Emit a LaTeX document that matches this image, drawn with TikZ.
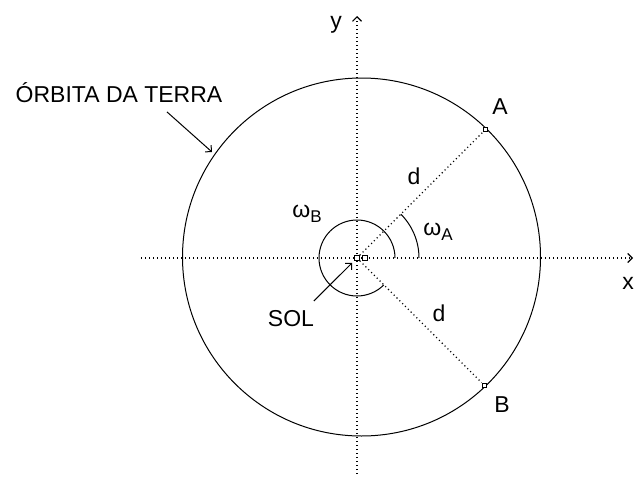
\documentclass[tikz,border=0pt]{standalone}
\usepackage{fontspec}
\setmainfont{Liberation Sans}
\usetikzlibrary{arrows.meta}
\tikzset{orbsec/.style={x=1pt,y=-1pt,font=\fontsize{23}{27}\selectfont,line width=1pt,
    >={Straight Barb[length=4.5pt,width=9pt]}},
  dots/.style={line width=1.1pt,dash pattern=on 1.1pt off 2.9pt},
  pt/.style={draw,rectangle,inner sep=0pt,minimum size=4.5pt,line width=0.9pt,fill=white}}
\newcommand{\sbx}[1]{\raisebox{-0.45ex}{\fontsize{17}{19}\selectfont #1}}

\begin{document}
\begin{tikzpicture}[orbsec]
    \useasboundingbox (0,0) rectangle (635,477);
    \coordinate (S) at (357,258);
    \coordinate (O) at (361.5,257);
    \coordinate (xl) at (141,258);
    \coordinate (xr) at (633,258);
    \coordinate (yb) at (357,474);
    \coordinate (yt) at (357,16);
    \draw[dots,->] (xl) -- (xr);
    \draw[dots,->] (yb) -- (yt);
    \draw (O) circle[radius=179pt];                                   % orbita
    \node[pt] (A) at ([shift={(45:182pt)}]S) {};
    \node[pt] (B) at ([shift={(-45:180pt)}]S) {};
    \draw[dots] (S) -- (A);
    \draw[dots] (S) -- (B);
    \draw ([shift={(0:38pt)}]S) arc[start angle=0,end angle=315,radius=38pt];   % omega B
    \draw ([shift={(0:62pt)}]S) arc[start angle=0,end angle=45,radius=62pt];    % omega A
    \node[pt] (sun) at (S) {};
    \node[pt] (ctr) at (365,258) {};
    \node (ylab) at (336,25) {y};
    \node (xlab) at (628,283) {x};
    \node (Alab) at (500,107) {A};
    \node (Blab) at (502,405) {B};
    \node (d1) at (414,176) {d};
    \node (d2) at (439,313) {d};
    \node (wA) at (438,232) {ω\sbx{A}};
    \node (wB) at (307,214) {ω\sbx{B}};
    \node (sol) at (291,319) {SOL};
    \node (orb) at (119,93) {ÓRBITA DA TERRA};
    \coordinate (E) at (212,152);
    \draw[->] ([shift={(48,5)}]orb.south) -- (E);
    \draw[->,shorten >=7pt] ([shift={(-4,-6)}]sol.north east) -- (S);
  \end{tikzpicture}
\end{document}
